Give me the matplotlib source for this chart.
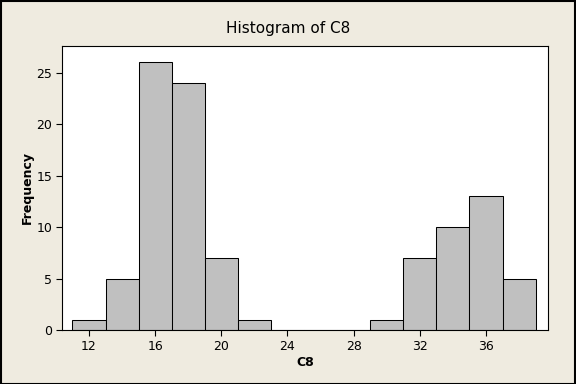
import numpy as np
import matplotlib
matplotlib.use('Agg')
import matplotlib.pyplot as plt
from matplotlib.patches import Rectangle

# Histogram data: bin centres and counts (bin width 2)
bin_centers = [12, 14, 16, 18, 20, 22, 24, 26, 28, 30, 32, 34, 36, 38]
counts = [1, 5, 26, 24, 7, 1, 0, 0, 0, 1, 7, 10, 13, 5]
x_ticks = [12, 16, 20, 24, 28, 32, 36]
y_ticks = [0, 5, 10, 15, 20, 25]

bg = '#EFEBE0'
fig = plt.figure(figsize=(5.76, 3.84), dpi=100)
fig.patch.set_facecolor(bg)
ax = fig.add_axes([62 / 576, 1 - 330 / 384, (548 - 62) / 576, (330 - 46) / 384])
ax.set_facecolor('white')

ax.bar(bin_centers, counts, width=2, color='#C0C0C0', edgecolor='black', linewidth=0.75)

ax.set_xlim(10.37, 39.75)
ax.set_ylim(0, 27.6)
ax.set_xticks(x_ticks)
ax.set_yticks(y_ticks)
ax.tick_params(direction='out', length=4, width=0.8, labelsize=9, colors='black', pad=3)
ax.tick_params(top=False, right=False)
for s in ax.spines.values():
    s.set_color('black')
    s.set_linewidth(0.8)

ax.set_xlabel('C8', fontsize=9, fontweight='bold', labelpad=2)
ax.set_ylabel('Frequency', fontsize=9, fontweight='bold', labelpad=0)
ax.yaxis.set_label_coords(-28 / 486, 0.5)
fig.text(0.5, 1 - 29 / 384, 'Histogram of C8', ha='center', va='center', fontsize=11)

# outer border
fig.patches.append(Rectangle((0.001, 0.001), 0.997, 0.997, transform=fig.transFigure,
                             fill=False, edgecolor='black', linewidth=1.5))

fig.savefig('out.png', dpi=100, facecolor=bg)
